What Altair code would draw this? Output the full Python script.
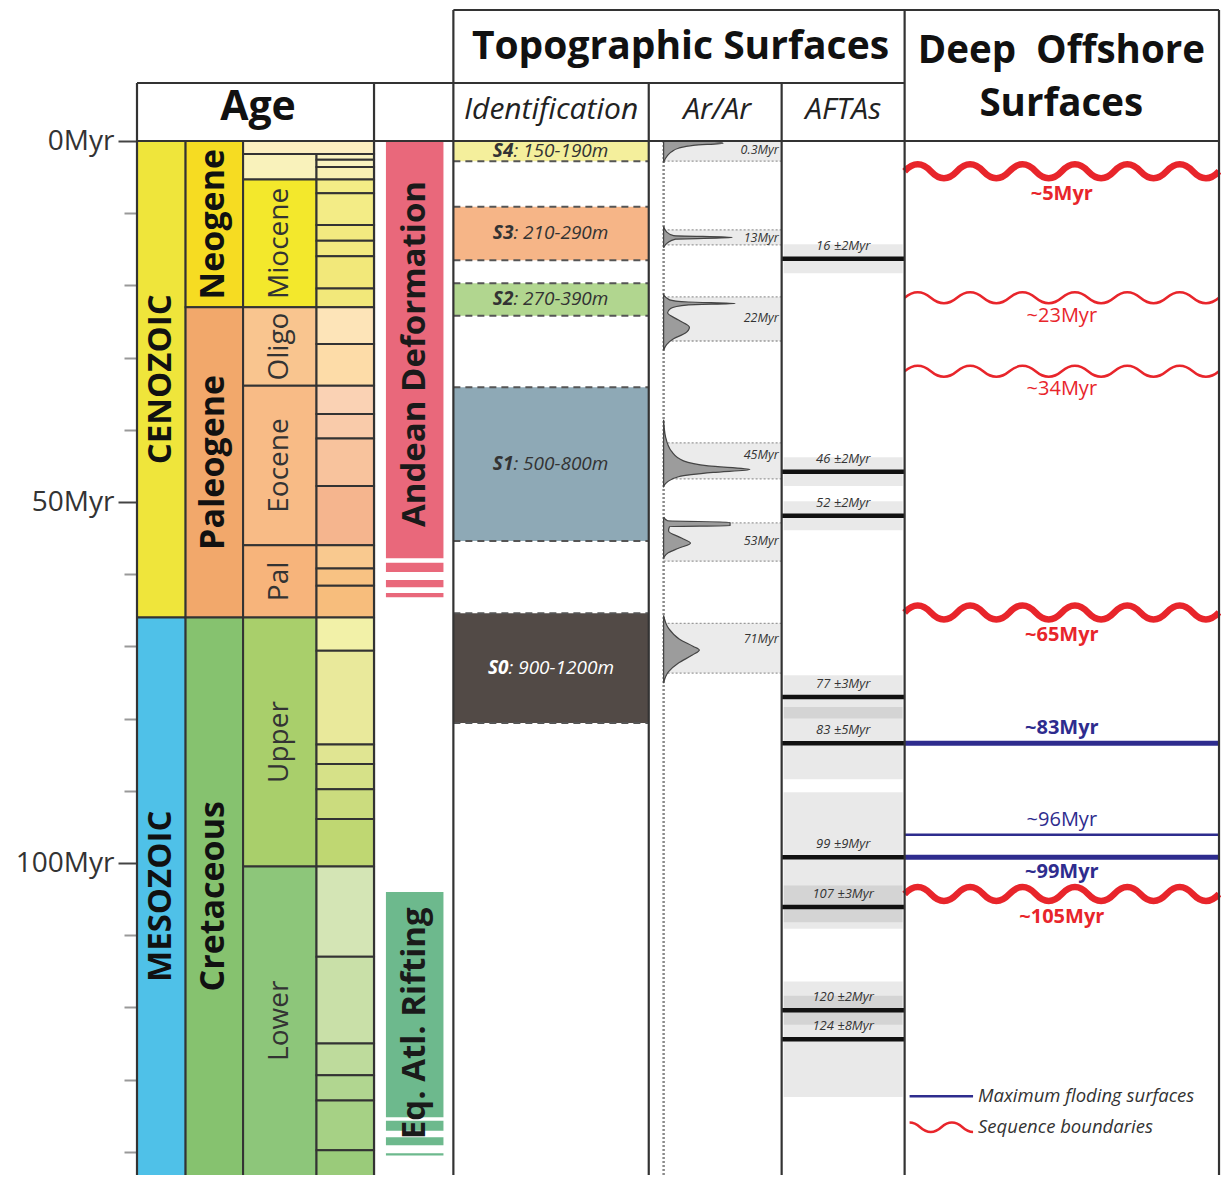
import altair as alt
import pandas as pd

# ------------------------------------------------------------------ data
ERA_NAME = ["CENOZOIC", "MESOZOIC"]
ERA_START = [0.0, 66.0]
ERA_END = [66.0, 145.0]

PERIOD_NAME = ["Neogene", "Paleogene", "Cretaceous"]
PERIOD_START = [0.0, 23.03, 66.0]
PERIOD_END = [23.03, 66.0, 145.0]

EPOCH_NAME = ["", "", "Miocene", "Oligo", "Eocene", "Pal", "Upper", "Lower"]
EPOCH_START = [0.0, 1.8, 5.33, 23.03, 33.9, 56.0, 66.0, 100.5]
EPOCH_END = [1.8, 5.33, 23.03, 33.9, 56.0, 66.0, 100.5, 145.0]

STAGE_START = [1.8, 2.58, 3.6, 5.33, 7.25, 11.63, 13.82, 15.97, 20.44,
               23.03, 28.1, 33.9, 37.8, 41.2, 47.8, 56.0, 59.2, 61.6,
               66.0, 70.6, 83.6, 86.3, 89.8, 93.9,
               100.5, 113.0, 125.0, 129.4, 132.9, 139.8]
STAGE_END = [2.58, 3.6, 5.33, 7.25, 11.63, 13.82, 15.97, 20.44, 23.03,
             28.1, 33.9, 37.8, 41.2, 47.8, 56.0, 59.2, 61.6, 66.0,
             70.6, 83.6, 86.3, 89.8, 93.9, 100.5,
             113.0, 125.0, 129.4, 132.9, 139.8, 145.0]

EVENT_NAME = ["Andean Deformation", "Eq. Atl. Rifting"]
EVENT_LABEL_AGE = [29.5, 122.2]
EVENT_BAR_OF = [0, 0, 0, 0, 1, 1, 1, 1]
EVENT_BAR_START = [0.0, 58.4, 60.8, 62.6, 104.0, 135.7, 138.0, 140.2]
EVENT_BAR_END = [57.8, 59.7, 61.8, 63.2, 135.2, 137.1, 139.1, 140.5]

SURF_NAME = ["S4", "S3", "S2", "S1", "S0"]
SURF_RANGE = ["150-190m", "210-290m", "270-390m", "500-800m", "900-1200m"]
SURF_TOP = [0.0, 9.1, 19.7, 34.1, 65.4]
SURF_BOTTOM = [2.8, 16.5, 24.2, 55.4, 80.6]

ARAR_LABEL = ["0.3Myr", "13Myr", "22Myr", "45Myr", "53Myr", "71Myr"]
ARAR_LABEL_AGE = [1.3, 13.4, 24.5, 43.5, 55.4, 69.0]
ARAR_BOX_TOP = [0.0, 12.3, 21.6, 41.8, 52.9, 66.8]
ARAR_BOX_BOTTOM = [2.8, 14.4, 27.7, 46.8, 58.2, 73.7]

# Ar/Ar age-probability curves (age Myr, relative density)
PEAK_A_AGE = [0.0, 0.3, 0.6, 1.0, 1.5, 2.0, 3.0]
PEAK_A_DENS = [0.45, 0.60, 0.30, 0.15, 0.08, 0.04, 0.0]
PEAK_B_AGE = [11.8, 12.6, 13.1, 13.35, 13.6, 14.1, 14.8]
PEAK_B_DENS = [0.0, 0.03, 0.10, 0.69, 0.12, 0.04, 0.0]
PEAK_C_AGE = [21.3, 22.0, 22.3, 22.5, 22.7, 23.2, 23.8, 24.8, 25.8, 26.6, 27.4, 28.2, 29.0]
PEAK_C_DENS = [0.0, 0.06, 0.25, 0.72, 0.25, 0.07, 0.04, 0.15, 0.26, 0.22, 0.10, 0.03, 0.0]
PEAK_D_AGE = [38.6, 41.0, 43.0, 44.3, 45.0, 45.5, 45.9, 46.5, 47.2, 47.8]
PEAK_D_DENS = [0.0, 0.02, 0.08, 0.20, 0.45, 0.87, 0.50, 0.15, 0.04, 0.0]
PEAK_E_AGE = [52.1, 52.6, 52.8, 53.3, 53.4, 54.0, 55.0, 55.7, 56.4, 57.0, 57.7]
PEAK_E_DENS = [0.0, 0.04, 0.67, 0.67, 0.06, 0.05, 0.18, 0.27, 0.15, 0.05, 0.0]
PEAK_F_AGE = [65.7, 67.5, 69.0, 70.0, 70.5, 71.2, 72.3, 73.5, 75.1]
PEAK_F_DENS = [0.0, 0.05, 0.16, 0.30, 0.36, 0.29, 0.15, 0.05, 0.0]

AFTA_AGE = [16.3, 45.8, 51.9, 77.0, 83.4, 99.2, 106.1, 120.4, 124.4]
AFTA_ERR = [2, 2, 2, 3, 5, 9, 3, 2, 8]
AFTA_LABEL = ["16 ±2Myr", "46 ±2Myr", "52 ±2Myr", "77 ±3Myr", "83 ±5Myr",
              "99 ±9Myr", "107 ±3Myr", "120 ±2Myr", "124 ±8Myr"]

SB_LABEL = ["~5Myr", "~23Myr", "~34Myr", "~65Myr", "~105Myr"]
SB_AGE = [4.2, 21.7, 31.9, 65.3, 104.3]
SB_MAJOR = [True, False, False, True, True]
MFS_LABEL = ["~83Myr", "~96Myr", "~99Myr"]
MFS_AGE = [83.4, 96.1, 99.2]
MFS_MAJOR = [True, False, True]

LEGEND_TEXT = ["Maximum floding surfaces", "Sequence boundaries"]

# ------------------------------------------------------------------ layout / style
FONT = "Open Sans"
LINE = "#333333"
RED = "#e8252b"
BLUE = "#2e2c8e"

W, H = 1084, 1165
PXPM = 7.22
Y_TOP = -131 / PXPM
Y_BOT = Y_TOP + H / PXPM
Y_HEAD = -58 / PXPM

COL = {"era": (137, 186), "period": (186, 244), "epoch": (244, 318), "stage": (318, 376),
       "event": (376, 456), "ident": (456, 653), "arar": (653, 787), "afta": (787, 911),
       "off": (911, 1228)}

ERA_FILL = ["#efe53b", "#4fc1e8"]
PERIOD_FILL = ["#f6dc22", "#f2a86b", "#86c26f"]
EPOCH_FILL = ["#fcefc0", "#f9f2bb", "#f3e82c", "#f9c58f", "#f8bb86", "#f7b47b", "#a9cf6b", "#8dc67a"]
EPOCH_WIDE = [True, False, False, False, False, False, False, False]
STAGE_FILL = ["#f9f3c0", "#f9f3c0", "#f8f0b4",
              "#f3ec86", "#f3ec86", "#f3ea80", "#f3ea80", "#f2e87a", "#f2e87a",
              "#fde4b8", "#fddca8", "#fad2b4", "#f9cbaa", "#f8c39d", "#f5b58e",
              "#f9c98f", "#f8c283", "#f7bd7c",
              "#f2f1a8", "#e9e99b", "#e0e592", "#d6e188", "#cbdc7e", "#bfd772",
              "#d4e5b5", "#c9e0a8", "#bedb9c", "#b1d690", "#a6d185", "#9acb7a"]
EVENT_FILL = ["#e9687b", "#6db98d"]
SURF_FILL = ["#f4ef9c", "#f6b587", "#b1d68f", "#8ea9b6", "#524a46"]
SURF_TEXT = ["#333333", "#333333", "#333333", "#333333", "#ffffff"]

XS = alt.Scale(domain=[137, 1230], nice=False, zero=False)
YS = alt.Scale(domain=[Y_TOP, Y_BOT], nice=False, zero=False, reverse=True)

YAXIS = alt.Axis(
    values=list(range(0, 141, 10)),
    labelExpr="datum.value % 50 === 0 ? datum.value + 'Myr' : ''",
    domain=False, grid=False, title=None,
    tickSize={"condition": {"test": "datum.value % 50 === 0", "value": 19}, "value": 13},
    tickColor={"condition": {"test": "datum.value % 50 === 0", "value": "#444444"}, "value": "#999999"},
    tickWidth=2, labelFont=FONT, labelFontSize=28, labelColor="#333333", labelPadding=4,
)


def X(f):
    return alt.X(f"{f}:Q", scale=XS, axis=None)


def Y(f, axis=None):
    if axis is not None:
        return alt.Y(f"{f}:Q", scale=YS, axis=axis)
    return alt.Y(f"{f}:Q", scale=YS)


def mid(a, b):
    return (a + min(b, Y_BOT)) / 2


def wave_path(n_half, amp):
    step = 2.0 / n_half
    parts = [f"M-1,0 Q{-1 + step / 2:.4f},{-2 * amp:.4f} {-1 + step:.4f},0"]
    for i in range(2, n_half + 1):
        parts.append(f"T{-1 + step * i:.4f},0")
    return " ".join(parts)


WAVE_W = (COL["off"][1] - COL["off"][0]) * W / (XS.domain[1] - XS.domain[0])
WAVE_THICK = wave_path(12, 7.0 / (WAVE_W / 2))
WAVE_THIN = wave_path(12, 5.5 / (WAVE_W / 2))
WAVE_LEGEND = ("M-1,-0.15 C-0.667,-0.15 -0.667,0.15 -0.333,0.15 "
               "C0,0.15 0,-0.15 0.333,-0.15 C0.667,-0.15 0.667,0.15 1,0.15")

layers = []

# ---------------- geological time scale
era = pd.DataFrame({"name": ERA_NAME, "y0": ERA_START, "y1": ERA_END, "fill": ERA_FILL})
era["x0"], era["x1"] = COL["era"]
era["xm"] = sum(COL["era"]) / 2
era["ym"] = [mid(a, b) for a, b in zip(ERA_START, ERA_END)]

per = pd.DataFrame({"name": PERIOD_NAME, "y0": PERIOD_START, "y1": PERIOD_END, "fill": PERIOD_FILL})
per["x0"], per["x1"] = COL["period"]
per["xm"] = sum(COL["period"]) / 2
per["ym"] = [mid(a, b) for a, b in zip(PERIOD_START, PERIOD_END)]

epo = pd.DataFrame({"name": EPOCH_NAME, "y0": EPOCH_START, "y1": EPOCH_END, "fill": EPOCH_FILL})
epo["x0"] = COL["epoch"][0]
epo["x1"] = [COL["stage"][1] if w else COL["epoch"][1] for w in EPOCH_WIDE]
epo["xm"] = sum(COL["epoch"]) / 2
epo["ym"] = [mid(a, b) for a, b in zip(EPOCH_START, EPOCH_END)]

stg = pd.DataFrame({"y0": STAGE_START, "y1": STAGE_END, "fill": STAGE_FILL})
stg["x0"], stg["x1"] = COL["stage"]

first = True
for df in (era, per, epo, stg):
    layers.append(
        alt.Chart(df).mark_rect(stroke=LINE, strokeWidth=2, clip=True).encode(
            x=X("x0"), x2=alt.X2("x1:Q"),
            y=Y("y0", YAXIS if first else None), y2=alt.Y2("y1:Q"),
            fill=alt.Fill("fill:N", scale=None),
        )
    )
    first = False

layers.append(alt.Chart(era).mark_text(angle=270, font=FONT, fontSize=33, fontWeight="bold",
                                       color="#111111").encode(x=X("xm"), y=Y("ym"), text="name:N"))
layers.append(alt.Chart(per).mark_text(angle=270, font=FONT, fontSize=34, fontWeight="bold",
                                       color="#111111").encode(x=X("xm"), y=Y("ym"), text="name:N"))
layers.append(alt.Chart(epo[epo["name"] != ""]).mark_text(angle=270, font=FONT, fontSize=28,
                                                           color="#333333").encode(
    x=X("xm"), y=Y("ym"), text="name:N"))

# ---------------- tectonic events
ev = pd.DataFrame({"y0": EVENT_BAR_START, "y1": EVENT_BAR_END,
                   "fill": [EVENT_FILL[i] for i in EVENT_BAR_OF]})
ev["x0"], ev["x1"] = COL["event"][0] + 12, COL["event"][1] - 10
layers.append(alt.Chart(ev).mark_rect(clip=True).encode(
    x=X("x0"), x2=alt.X2("x1:Q"), y=Y("y0"), y2=alt.Y2("y1:Q"), fill=alt.Fill("fill:N", scale=None)))
evl = pd.DataFrame({"name": EVENT_NAME, "ym": EVENT_LABEL_AGE})
evl["xm"] = (COL["event"][0] + 12 + COL["event"][1] - 10) / 2
layers.append(alt.Chart(evl).mark_text(angle=270, font=FONT, fontSize=33, fontWeight="bold",
                                       color="#1a1a1a").encode(x=X("xm"), y=Y("ym"), text="name:N"))

# ---------------- identification surfaces
sf = pd.DataFrame({"name": SURF_NAME, "rng": [": " + r for r in SURF_RANGE],
                   "y0": SURF_TOP, "y1": SURF_BOTTOM, "fill": SURF_FILL, "tc": SURF_TEXT})
sf["x0"], sf["x1"] = COL["ident"]
sf["ym"] = (sf["y0"] + sf["y1"]) / 2
FS_ID = 19
center = sum(COL["ident"]) / 2
sf["xs"] = [center + (0.6 * FS_ID * len(n) - 0.52 * FS_ID * len(r)) / 2
            for n, r in zip(sf["name"], sf["rng"])]
layers.append(alt.Chart(sf).mark_rect().encode(
    x=X("x0"), x2=alt.X2("x1:Q"), y=Y("y0"), y2=alt.Y2("y1:Q"), fill=alt.Fill("fill:N", scale=None)))
sfb = pd.concat([sf.assign(yb=sf["y0"]), sf.assign(yb=sf["y1"])])
layers.append(alt.Chart(sfb).mark_rule(strokeDash=[7, 5], strokeWidth=2, color="#555555").encode(
    x=X("x0"), x2=alt.X2("x1:Q"), y=Y("yb")))
layers.append(alt.Chart(sf).mark_text(align="right", font=FONT, fontSize=FS_ID, fontStyle="italic",
                                      fontWeight="bold").encode(
    x=X("xs"), y=Y("ym"), text="name:N", color=alt.Color("tc:N", scale=None)))
layers.append(alt.Chart(sf).mark_text(align="left", font=FONT, fontSize=FS_ID, fontStyle="italic").encode(
    x=X("xs"), y=Y("ym"), text="rng:N", color=alt.Color("tc:N", scale=None)))

# ---------------- Ar/Ar
ARAR_BASE = 668
ARAR_SCALE = 100
ab = pd.DataFrame({"y0": ARAR_BOX_TOP, "y1": ARAR_BOX_BOTTOM})
ab["x0"], ab["x1"] = ARAR_BASE, COL["arar"][1]
layers.append(alt.Chart(ab).mark_rect(color="#ebebeb").encode(
    x=X("x0"), x2=alt.X2("x1:Q"), y=Y("y0"), y2=alt.Y2("y1:Q")))
abb = pd.concat([ab.assign(yb=ab["y0"]), ab.assign(yb=ab["y1"])])
abb = abb[abb["yb"] > 0]
layers.append(alt.Chart(abb).mark_rule(strokeDash=[2, 2], strokeWidth=1.3, color="#9a9a9a").encode(
    x=X("x0"), x2=alt.X2("x1:Q"), y=Y("yb")))
base = pd.DataFrame({"x0": [ARAR_BASE], "y0": [0.0], "y1": [Y_BOT]})
layers.append(alt.Chart(base).mark_rule(strokeDash=[2, 2], strokeWidth=2.5, color="#8a8a8a").encode(
    x=X("x0"), y=Y("y0"), y2=alt.Y2("y1:Q")))
peaks = pd.concat([
    pd.DataFrame({"peak": k, "age": a, "dens": d}) for k, a, d in [
        ("A", PEAK_A_AGE, PEAK_A_DENS), ("B", PEAK_B_AGE, PEAK_B_DENS),
        ("C", PEAK_C_AGE, PEAK_C_DENS), ("D", PEAK_D_AGE, PEAK_D_DENS),
        ("E", PEAK_E_AGE, PEAK_E_DENS), ("F", PEAK_F_AGE, PEAK_F_DENS)]
])
layers.append(alt.Chart(peaks).transform_calculate(
    xb=f"{ARAR_BASE}", xv=f"{ARAR_BASE} + datum.dens * {ARAR_SCALE}"
).mark_area(orient="horizontal", interpolate="monotone", fill="#9c9c9c", stroke="#444444",
            strokeWidth=1.2).encode(y=Y("age"), x=X("xb"), x2=alt.X2("xv:Q"), detail="peak:N"))
al = pd.DataFrame({"t": ARAR_LABEL, "y": ARAR_LABEL_AGE})
al["x"] = COL["arar"][1] - 3
layers.append(alt.Chart(al).mark_text(align="right", font=FONT, fontSize=12.5, fontStyle="italic",
                                      color="#333333").encode(x=X("x"), y=Y("y"), text="t:N"))

# ---------------- AFTAs
af = pd.DataFrame({"age": AFTA_AGE, "err": AFTA_ERR, "t": AFTA_LABEL})
af["y0"] = af["age"] - af["err"]
af["y1"] = af["age"] + af["err"]
af["x0"], af["x1"] = COL["afta"][0] + 2, COL["afta"][1] - 2
af["xl0"], af["xl1"] = COL["afta"]
af["xm"] = sum(COL["afta"]) / 2
layers.append(alt.Chart(af).mark_rect(color="#000000", opacity=0.085).encode(
    x=X("x0"), x2=alt.X2("x1:Q"), y=Y("y0"), y2=alt.Y2("y1:Q")))
layers.append(alt.Chart(af).mark_rule(strokeWidth=4.5, color="#111111").encode(
    x=X("xl0"), x2=alt.X2("xl1:Q"), y=Y("age")))
layers.append(alt.Chart(af).mark_text(dy=-13, font=FONT, fontSize=13, fontStyle="italic",
                                      color="#333333").encode(x=X("xm"), y=Y("age"), text="t:N"))

# ---------------- deep offshore surfaces
OFF_C = sum(COL["off"]) / 2
sb = pd.DataFrame({"t": SB_LABEL, "age": SB_AGE, "major": SB_MAJOR})
sb["x"] = OFF_C
layers.append(alt.Chart(sb[sb["major"]]).mark_point(
    shape=WAVE_THICK, size=WAVE_W ** 2, filled=False, stroke=RED, strokeWidth=6.5, opacity=1
).encode(x=X("x"), y=Y("age")))
layers.append(alt.Chart(sb[~sb["major"]]).mark_point(
    shape=WAVE_THIN, size=WAVE_W ** 2, filled=False, stroke=RED, strokeWidth=2.5, opacity=1
).encode(x=X("x"), y=Y("age")))
layers.append(alt.Chart(sb[sb["major"]]).mark_text(dy=23, font=FONT, fontSize=20, fontWeight="bold",
                                                   color=RED).encode(x=X("x"), y=Y("age"), text="t:N"))
layers.append(alt.Chart(sb[~sb["major"]]).mark_text(dy=18, font=FONT, fontSize=20,
                                                    color=RED).encode(x=X("x"), y=Y("age"), text="t:N"))

mf = pd.DataFrame({"t": MFS_LABEL, "age": MFS_AGE, "major": MFS_MAJOR,
                   "side": ["above", "above", "below"]})
mf["x0"], mf["x1"] = COL["off"]
mf["x"] = OFF_C
layers.append(alt.Chart(mf[mf["major"]]).mark_rule(strokeWidth=5, color=BLUE).encode(
    x=X("x0"), x2=alt.X2("x1:Q"), y=Y("age")))
layers.append(alt.Chart(mf[~mf["major"]]).mark_rule(strokeWidth=2.5, color=BLUE).encode(
    x=X("x0"), x2=alt.X2("x1:Q"), y=Y("age")))
for side, dy in (("above", -15), ("below", 15)):
    for major in (True, False):
        d = mf[(mf["side"] == side) & (mf["major"] == major)]
        if len(d):
            layers.append(alt.Chart(d).mark_text(
                dy=dy, font=FONT, fontSize=20, fontWeight="bold" if major else "normal", color=BLUE
            ).encode(x=X("x"), y=Y("age"), text="t:N"))

# ---------------- legend (manual)
LEG_Y = [132.3, 136.6]
lg = pd.DataFrame({"t": LEGEND_TEXT, "y": LEG_Y})
lg["xt"] = 985
layers.append(alt.Chart(lg.iloc[[0]].assign(x0=916, x1=980)).mark_rule(strokeWidth=2.5, color=BLUE).encode(
    x=X("x0"), x2=alt.X2("x1:Q"), y=Y("y")))
lw = 64 * W / (XS.domain[1] - XS.domain[0])
layers.append(alt.Chart(lg.iloc[[1]].assign(xc=948)).mark_point(
    shape=WAVE_LEGEND, size=lw ** 2, filled=False, stroke=RED, strokeWidth=2.5, opacity=1
).encode(x=X("xc"), y=Y("y")))
layers.append(alt.Chart(lg).mark_text(align="left", font=FONT, fontSize=18.5, fontStyle="italic",
                                      color="#333333").encode(x=X("xt"), y=Y("y"), text="t:N"))

# ---------------- frame lines
vx = [137, 376, 456, 653, 787, 911, 1228]
vy0 = [Y_HEAD, Y_HEAD, Y_TOP, Y_HEAD, Y_HEAD, Y_TOP, Y_TOP]
fv = pd.DataFrame({"x0": vx, "y0": vy0, "y1": Y_BOT})
layers.append(alt.Chart(fv).mark_rule(strokeWidth=2.2, color=LINE).encode(
    x=X("x0"), y=Y("y0"), y2=alt.Y2("y1:Q")))
fh = pd.DataFrame({"y0": [Y_TOP, Y_HEAD, 0.0], "x0": [456, 137, 137], "x1": [1228, 911, 1228]})
layers.append(alt.Chart(fh).mark_rule(strokeWidth=2.2, color=LINE).encode(
    x=X("x0"), x2=alt.X2("x1:Q"), y=Y("y0")))

# ---------------- header texts
hd = pd.DataFrame({
    "t": ["Age", "Topographic Surfaces", "Deep\u00a0 Offshore", "Surfaces"],
    "x": [259, 685, 1069, 1069],
    "y": [-4.6, -13.0, -12.5, -5.1],
    "fs": [41, 39, 38.5, 38.5],
})
layers.append(alt.Chart(hd).mark_text(font=FONT, fontWeight="bold", color="#111111").encode(
    x=X("x"), y=Y("y"), text="t:N", size=alt.Size("fs:Q", scale=None)))
sh = pd.DataFrame({"t": ["Identification", "Ar/Ar", "AFTAs"],
                   "x": [sum(COL["ident"]) / 2, sum(COL["arar"]) / 2 + 2, sum(COL["afta"]) / 2],
                   "y": [-4.3, -4.3, -4.3]})
layers.append(alt.Chart(sh).mark_text(font=FONT, fontSize=30, fontStyle="italic", color="#222222").encode(
    x=X("x"), y=Y("y"), text="t:N"))

chart = alt.layer(*layers).properties(
    width=W, height=H,
    padding={"left": 129, "top": 2, "right": 0, "bottom": 0},
    autosize=alt.AutoSizeParams(type="none"),
).configure(background="white").configure_view(stroke="transparent", strokeWidth=0)

chart.save("out.html", embed_options={"renderer": "svg", "actions": False})
